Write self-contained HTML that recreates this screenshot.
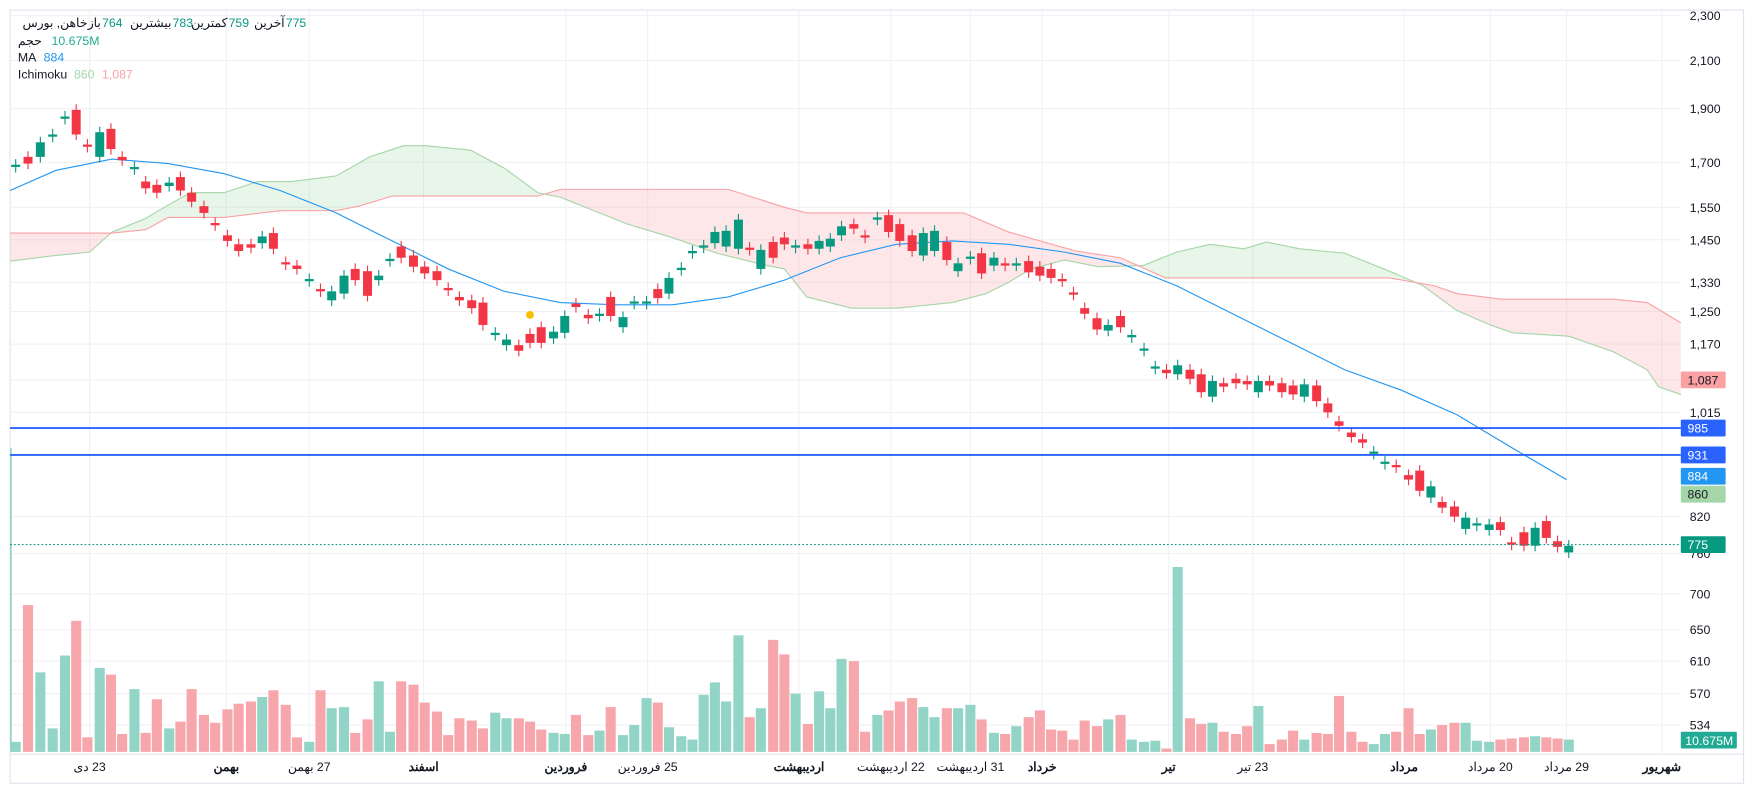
<!DOCTYPE html>
<html><head><meta charset="utf-8">
<style>
html,body{margin:0;padding:0;background:#fff;overflow:hidden}
svg{display:block}
text{font-family:"Liberation Sans","Noto Sans CJK SC",sans-serif;}
</style></head>
<body>
<svg id="s" width="1757" height="790" viewBox="0 0 1568 705" preserveAspectRatio="none" xmlns="http://www.w3.org/2000/svg">
<rect x="0" y="0" width="1568" height="705" fill="#fff"/>
<g id="grid"></g>
<g id="cloud"></g>
<g id="vol"></g>
<g id="ma"></g>
<g id="candles"></g>
<g id="lines"></g>
<g id="labels"></g>
</svg>
<script>
const NS="http://www.w3.org/2000/svg";
function el(p,t,a,txt){const e=document.createElementNS(NS,t);for(const k in a)e.setAttribute(k,a[k]);if(txt!==undefined)e.textContent=txt;document.getElementById(p).appendChild(e);return e;}
const R="#f23645",G="#089981",RV="#f7a6ab",GV="#92d5c7";
el("grid","rect",{x:9,y:9,width:1547,height:690,fill:"none",stroke:"#e0e3eb","stroke-width":1});
el("grid","line",{x1:9,y1:673,x2:1556,y2:673,stroke:"#e0e3eb"});
const ticks=[[2300,14],[2100,54],[1900,97],[1700,145],[1550,185],[1450,214],[1330,252],[1250,278],[1170,307],[1087,339],[1015,368],[931,406],[820,461],[760,494],[700,530],[650,562],[610,590],[570,619],[534,647]];
ticks.forEach(t=>{el("grid","line",{x1:9,y1:t[1],x2:1500,y2:t[1],stroke:"#f0f1f4"});});
const vx=[80,202,276,378,505,578,713,795,866,930,1043,1118,1253,1330,1398,1483];
vx.forEach(x=>el("grid","line",{x1:x,y1:9,x2:x,y2:673,stroke:"#f0f1f4"}));
ticks.forEach(t=>{if(t[0]!==1087&&t[0]!==931)el("labels","text",{x:1508,y:t[1]+4,"font-size":11,fill:"#131722"},t[0].toLocaleString("en-US"));});
const A=[[9,233],[50,228],[80,225],[100,207],[130,195],[150,183],[170,172],[200,172],[230,162],[260,162],[300,157],[330,140],[360,130],[380,130],[420,134],[450,150],[480,172],[500,176],[530,188],[560,200],[600,212],[640,226],[680,236],[700,240],[720,265],[760,275],[800,275],[850,270],[880,262],[900,252],[920,240],[950,232],[980,238],[1020,237],[1050,225],[1080,218],[1110,222],[1130,216],[1160,222],[1200,226],[1240,242],[1270,255],[1300,277],[1330,290],[1350,297],[1400,300],[1440,314],[1470,330],[1480,345],[1500,352]];
const B=[[9,208],[100,208],[130,205],[150,194],[200,194],[250,188],[300,188],[320,184],[350,175],[480,175],[500,169],[650,169],[700,185],[720,190],[860,190],[900,207],[960,224],[1000,230],[1040,248],[1240,248],[1280,255],[1300,262],[1340,267],[1440,267],[1470,270],[1500,288]];
const pl=a=>a.map(p=>p.join(",")).join(" ");
const defs=el("cloud","defs",{});
function clip(id,pts){const c=document.createElementNS(NS,"clipPath");c.setAttribute("id",id);const p=document.createElementNS(NS,"polygon");p.setAttribute("points",pts);c.appendChild(p);defs.appendChild(c);}
clip("aboveB",pl(B)+" 1500,0 9,0");
clip("aboveA",pl(A)+" 1500,0 9,0");
el("cloud","polygon",{points:pl(A)+" 1500,700 9,700",fill:"#a5d6a7","fill-opacity":0.25,"clip-path":"url(#aboveB)"});
el("cloud","polygon",{points:pl(B)+" 1500,700 9,700",fill:"#faa1a4","fill-opacity":0.25,"clip-path":"url(#aboveA)"});
el("cloud","polyline",{points:pl(A),fill:"none",stroke:"#a5d6a7","stroke-width":1});
el("cloud","polyline",{points:pl(B),fill:"none",stroke:"#faa1a4","stroke-width":1});
const M=[[9,170],[50,152],[100,142],[150,146],[200,155],[250,170],[300,190],[350,215],[400,240],[450,260],[500,270],[550,272],[600,272],[650,265],[700,250],[750,230],[800,218],[850,215],[900,218],[950,225],[1000,235],[1050,255],[1100,280],[1150,305],[1200,330],[1250,348],[1300,370],[1350,400],[1398,428]];
el("ma","polyline",{points:pl(M),fill:"none",stroke:"#2196f3","stroke-width":1});
const C=[[14,147,149,G],[25,140,146,R],[36,127,140,G],[47,120,122,G],[58,104,106,G],[68,98,120,R],[78,129,131,R],[89,118,140,G],[99,115,133,R],[109,140,143,R],[120,149,151,G],[130,162,168,R],[140,165,172,R],[151,163,166,G],[161,158,170,R],[171,172,180,R],[182,184,190,R],[192,199,201,R],[203,210,215,R],[213,218,224,R],[224,218,221,R],[234,211,217,G],[244,208,222,R],[255,234,236,R],[265,237,240,R],[276,249,251,G],[286,258,260,R],[296,260,268,G],[307,246,262,G],[317,240,250,R],[328,242,264,R],[338,246,250,G],[348,231,233,G],[358,220,230,R],[369,228,238,R],[379,238,244,R],[390,242,250,R],[400,257,259,R],[410,265,268,R],[421,268,275,R],[431,270,290,R],[442,297,299,G],[452,303,308,G],[463,308,313,R],[473,298,306,R],[483,292,306,R],[494,296,302,G],[504,282,297,G],[514,271,274,R],[525,281,284,R],[535,280,282,G],[545,265,282,R],[556,283,292,G],[566,269,271,G],[577,269,271,G],[587,258,266,R],[597,248,262,G],[608,239,241,G],[618,224,226,G],[628,219,221,G],[638,207,217,G],[648,206,220,G],[659,196,222,G],[669,221,223,R],[679,223,240,G],[690,216,230,R],[700,212,218,R],[710,219,221,G],[721,218,222,R],[731,215,222,G],[741,213,220,G],[751,202,210,G],[762,200,204,R],[772,210,212,R],[783,194,196,G],[793,192,207,R],[803,200,215,R],[814,210,224,R],[824,208,228,G],[834,206,224,G],[845,216,232,R],[855,235,242,G],[866,229,231,G],[876,226,244,R],[887,230,237,G],[897,235,237,R],[907,235,237,G],[918,233,243,R],[928,238,246,R],[938,240,248,R],[948,249,251,R],[958,261,263,R],[968,275,280,R],[979,284,294,R],[989,290,295,G],[1000,282,292,R],[1010,299,301,G],[1021,311,313,G],[1031,327,329,G],[1041,330,333,R],[1051,326,334,G],[1062,330,338,R],[1072,334,350,R],[1082,340,354,G],[1092,342,345,R],[1103,338,342,R],[1113,340,343,R],[1123,340,350,G],[1133,340,344,R],[1144,342,350,R],[1154,344,352,R],[1164,343,354,G],[1175,344,358,R],[1185,360,368,R],[1195,376,380,R],[1206,386,390,R],[1216,392,395,R],[1226,403,405,G],[1236,412,414,G],[1246,415,417,R],[1257,424,428,R],[1267,420,438,R],[1277,434,444,G],[1287,448,453,R],[1298,452,461,R],[1308,462,472,G],[1318,467,469,G],[1329,468,473,G],[1339,466,473,R],[1349,484,486,R],[1360,475,487,R],[1370,471,487,G],[1380,465,480,R],[1390,483,488,R],[1400,487,493,G]];
C.forEach(c=>{el("candles","line",{x1:c[0],y1:c[1]-5,x2:c[0],y2:c[2]+5,stroke:c[3],"stroke-width":1});el("candles","rect",{x:c[0]-4,y:c[1],width:8,height:Math.max(1.5,c[2]-c[1]),fill:c[3]});});
const V=[662,540,600,650,585,554,658,596,602,655,615,654,624,650,644,615,638,645,633,628,626,622,616,629,658,662,616,632,631,654,642,608,653,608,611,627,635,656,641,643,650,636,641,641,644,651,654,655,638,656,652,631,656,647,623,627,649,657,660,620,609,626,567,640,632,571,584,619,646,617,632,588,590,653,638,634,626,623,631,640,632,632,629,642,654,655,648,640,634,651,652,660,643,648,642,638,660,662,661,668,506,641,646,645,653,655,648,630,664,660,652,660,654,655,621,653,662,664,655,653,632,655,651,647,645,645,661,662,660,659,658,657,658,659,660];
C.forEach((c,i)=>{const t=V[i]||660;el("vol","rect",{x:c[0]-4.5,y:t,width:9,height:671-t,fill:c[3]===R?RV:GV});});
el("vol","rect",{x:9,y:400,width:1.5,height:271,fill:GV});
el("lines","line",{x1:9,y1:382,x2:1500,y2:382,stroke:"#2962ff","stroke-width":1.6});
el("lines","line",{x1:9,y1:406,x2:1500,y2:406,stroke:"#2962ff","stroke-width":1.6});
el("lines","line",{x1:9,y1:486,x2:1500,y2:486,stroke:G,"stroke-width":1,"stroke-dasharray":"1.5,2"});
el("lines","circle",{cx:473,cy:281,r:3.5,fill:"#f5c000"});
function tag(y,txt,bg,fg){el("labels","rect",{x:1500,y:y-7.5,width:40,height:15,fill:bg,rx:1});el("labels","text",{x:1506,y:y+4,"font-size":11,fill:fg},txt);}
tag(339,"1,087","#faa1a4","#131722");
tag(382,"985","#2962ff","#fff");
tag(406,"931","#2962ff","#fff");
tag(425,"884","#2196f3","#fff");
tag(441,"860","#a5d6a7","#131722");
tag(486,"775",G,"#fff");
el("labels","rect",{x:1500,y:653,width:50,height:15,fill:"#22ab94",rx:1});
el("labels","text",{x:1504,y:665,"font-size":11,fill:"#fff"},"10.675M");
const xl=[[80,"23 دی",0],[202,"بهمن",1],[276,"27 بهمن",0],[378,"اسفند",1],[505,"فروردین",1],[578,"25 فروردین",0],[713,"اردیبهشت",1],[795,"22 اردیبهشت",0],[866,"31 اردیبهشت",0],[930,"خرداد",1],[1043,"تیر",1],[1118,"23 تیر",0],[1253,"مرداد",1],[1330,"20 مرداد",0],[1398,"29 مرداد",0],[1483,"شهریور",1]];
xl.forEach(l=>el("labels","text",{x:l[0],y:688,"font-size":11,"text-anchor":"middle",fill:"#131722","font-weight":l[2]?"bold":"normal",direction:"rtl"},l[1]));
function lbl(xEnd,txt){el("labels","text",{x:xEnd,y:24,"font-size":11,fill:"#131722","text-anchor":"end"},txt);}
function num(x,txt){el("labels","text",{x:x,y:24,"font-size":11,fill:"#089981"},txt);}
lbl(78,"خاهن, بورس");
lbl(90,"باز"); num(91,"764");
lbl(153,"بیشترین"); num(154,"783");
lbl(203,"کمترین"); num(204,"759");
lbl(254,"آخرین"); num(255,"775");
el("labels","text",{x:16,y:40,"font-size":11,fill:"#131722"},"حجم");
el("labels","text",{x:46,y:40,"font-size":11,fill:"#22ab94"},"10.675M");
el("labels","text",{x:16,y:55,"font-size":11,fill:"#131722"},"MA");
el("labels","text",{x:39,y:55,"font-size":11,fill:"#2196f3"},"884");
el("labels","text",{x:16,y:70,"font-size":11,fill:"#131722"},"Ichimoku");
el("labels","text",{x:66,y:70,"font-size":11,fill:"#a5d6a7"},"860");
el("labels","text",{x:91,y:70,"font-size":11,fill:"#faa1a4"},"1,087");
</script>
</body></html>
